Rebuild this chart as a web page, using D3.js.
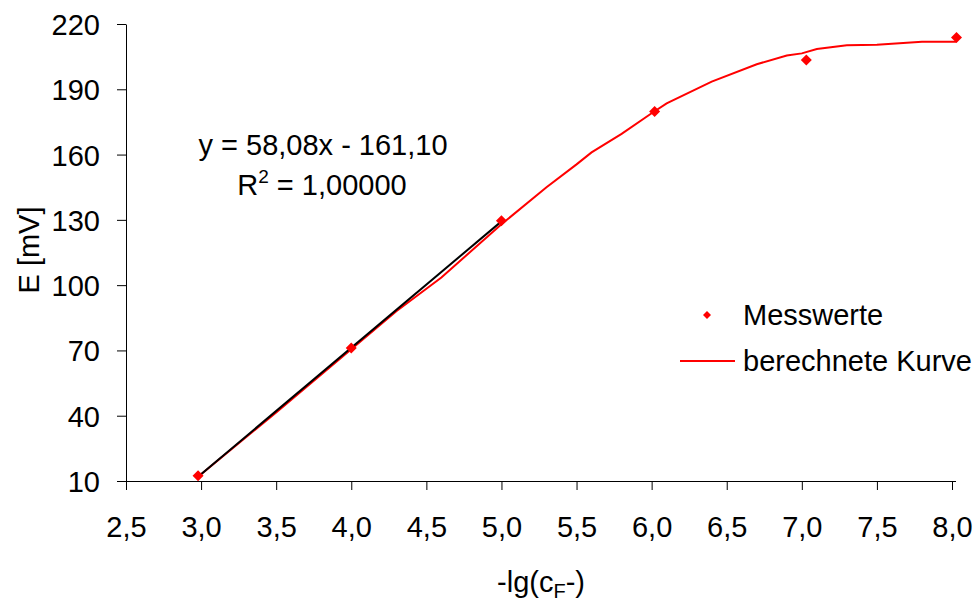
<!DOCTYPE html>
<html><head><meta charset="utf-8">
<script src="https://cdn.jsdelivr.net/npm/d3@7"></script>
<style>
html,body{margin:0;padding:0;background:#fff;}
svg{display:block;font-family:"Liberation Sans",Arial,sans-serif;}
</style></head>
<body><svg id="c" width="978" height="601"></svg>
<script>
// Measured data (Messwerte)
const measX = [2.98, 4.00, 5.00, 6.02, 7.03, 8.03];
const measY = [12.4, 71.1, 129.6, 179.8, 203.5, 213.8];
// Calculated curve (berechnete Kurve)
const curveX = [2.98, 3.5, 4.0, 4.3, 4.6, 5.0, 5.3, 5.5, 5.6, 5.8, 6.0, 6.1, 6.4, 6.7, 6.9, 7.0, 7.1, 7.3, 7.5, 7.8, 8.03];
const curveY = [12.0, 41.5, 70.5, 88.0, 103.5, 128.0, 145.0, 155.5, 161.0, 169.5, 179.0, 183.5, 193.5, 201.5, 205.5, 206.5, 208.5, 210.2, 210.5, 211.8, 211.8];
// Linear trend over first three points
const trendX = [2.98, 5.00];
const slope = 58.08, intercept = -161.10;
const xTicks = [2.5, 3.0, 3.5, 4.0, 4.5, 5.0, 5.5, 6.0, 6.5, 7.0, 7.5, 8.0];
const yTicks = [10, 40, 70, 100, 130, 160, 190, 220];
const seriesNames = ["Messwerte", "berechnete Kurve"];

const svg = d3.select("#c");
const x = d3.scaleLinear().domain([2.5, 8.0]).range([126, 952]);
const y = d3.scaleLinear().domain([10, 220]).range([481, 24]);
const fmt = d => d.toFixed(1).replace(".", ",");

// Axes
const xAxis = svg.append("g").attr("transform", "translate(0,481)")
  .call(d3.axisBottom(x).tickValues(xTicks).tickFormat(fmt).tickSize(9).tickSizeOuter(0).tickPadding(26));
const yAxis = svg.append("g").attr("transform", "translate(126,0)")
  .call(d3.axisLeft(y).tickValues(yTicks).tickFormat(d3.format("d")).tickSize(9).tickSizeOuter(0).tickPadding(17));
[xAxis, yAxis].forEach(a => {
  a.selectAll("path.domain").attr("stroke", "#000").attr("stroke-width", 1);
  a.selectAll(".tick line").attr("stroke", "#000").attr("stroke-width", 1);
  a.selectAll("text").attr("fill", "#000").style("font-size", "29px").style("font-family", "Liberation Sans, Arial, sans-serif");
});
xAxis.select("path.domain").attr("d", "M126,0.5H956");
yAxis.selectAll(".tick text").attr("dy", "0.36em");

// Curve
const line = d3.line().x(d => x(d[0])).y(d => y(d[1]));
svg.append("path").datum(curveX.map((v, i) => [v, curveY[i]]))
  .attr("d", line).attr("fill", "none").attr("stroke", "#ff0000").attr("stroke-width", 2);

// Trend line
svg.append("path").datum(trendX.map(v => [v, slope * v + intercept]))
  .attr("d", line).attr("fill", "none").attr("stroke", "#000").attr("stroke-width", 2);

// Diamonds
const diamond = s => `M0,${-s}L${s},0L0,${s}L${-s},0Z`;
svg.selectAll("path.pt").data(measX.map((v, i) => [v, measY[i]])).enter()
  .append("path").attr("class", "pt")
  .attr("d", diamond(5.5))
  .attr("transform", d => `translate(${x(d[0])},${y(d[1])})`)
  .attr("fill", "#ff0000");

// Equation text
const eq = svg.append("g").style("font-size", "29px").attr("fill", "#000");
eq.append("text").attr("x", 323).attr("y", 155).attr("text-anchor", "middle").text("y = 58,08x - 161,10");
const r2 = eq.append("text").attr("x", 322).attr("y", 195).attr("text-anchor", "middle");
r2.append("tspan").text("R");
r2.append("tspan").attr("dy", -12).style("font-size", "19px").text("2");
r2.append("tspan").attr("dy", 12).text(" = 1,00000");

// Legend
const lg = svg.append("g").style("font-size", "29px").attr("fill", "#000");
lg.append("path").attr("d", diamond(4)).attr("transform", "translate(707,315)").attr("fill", "#ff0000");
lg.append("text").attr("x", 743).attr("y", 325).text(seriesNames[0]);
lg.append("line").attr("x1", 680).attr("x2", 735).attr("y1", 361).attr("y2", 361).attr("stroke", "#ff0000").attr("stroke-width", 2);
lg.append("text").attr("x", 743).attr("y", 371).text(seriesNames[1]);

// Axis titles
const xt = svg.append("text").attr("x", 541).attr("y", 592).attr("text-anchor", "middle").style("font-size", "29px").attr("fill", "#000");
xt.append("tspan").text("-lg(c");
xt.append("tspan").attr("dy", 6).style("font-size", "20px").text("F");
xt.append("tspan").attr("dy", -6).text("-)");
svg.append("text").attr("transform", "translate(39,250) rotate(-90)").attr("text-anchor", "middle")
  .style("font-size", "29px").attr("fill", "#000").text("E [mV]");
</script></body></html>
